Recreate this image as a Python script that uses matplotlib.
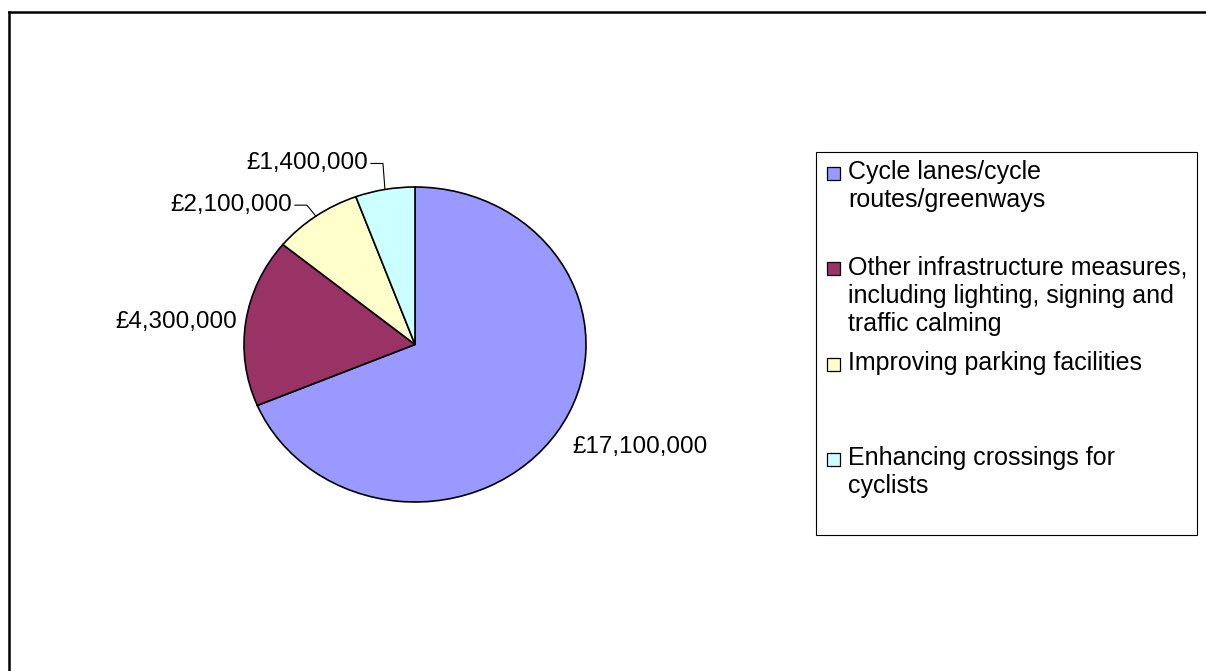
import numpy as np
import matplotlib
matplotlib.use('Agg')
import matplotlib.pyplot as plt
from matplotlib.patches import Rectangle
from matplotlib.lines import Line2D

plt.rcParams['font.family'] = ['Liberation Sans', 'DejaVu Sans']

categories = ['Cycle lanes/cycle\nroutes/greenways',
              'Other infrastructure measures,\nincluding lighting, signing and\ntraffic calming',
              'Improving parking facilities',
              'Enhancing crossings for\ncyclists']
values = [17100000, 4300000, 2100000, 1400000]
value_labels = ['£17,100,000', '£4,300,000', '£2,100,000', '£1,400,000']
colors = ['#9999FF', '#993366', '#FFFFCC', '#CCFFFF']

W, H = 1206, 671
fig = plt.figure(figsize=(W / 100, H / 100), dpi=100)

def fx(px):
    return px / W

def fy(py):
    return 1 - py / H

# pie is a bit squashed in the original (ellipse)
cx, cy, rx, ry = 415, 344.5, 171, 157.5
ax = fig.add_axes([fx(cx - 1.25 * rx), fy(cy + 1.25 * ry), 2.5 * rx / W, 2.5 * ry / H])
wedges, _ = ax.pie(values, colors=colors, startangle=90, counterclock=False,
                   wedgeprops=dict(edgecolor='black', linewidth=1.2))
ax.set_aspect('auto')
ax.set_xlim(-1.25, 1.25)
ax.set_ylim(-1.25, 1.25)

# label offsets in pixels from the wedge edge (dx, dy down), leader line length
label_off = [(15, 15), (-9, 0), (-9, -11), (-2, -26)]
label_ha = ['left', 'right', 'right', 'right']
leader_len = [0, 0, 12, 12]

for w, lab, (dx, dy), ha, hl in zip(wedges, value_labels, label_off, label_ha, leader_len):
    mid = np.deg2rad((w.theta1 + w.theta2) / 2)
    ex, ey = np.cos(mid), np.sin(mid)
    px, py = ex + dx / rx, ey - dy / ry
    if hl:
        ax.plot([ex, px, px - hl / rx], [ey, py, py], color='black', lw=0.8, clip_on=False)
        px = px - (hl + 3) / rx
    ax.text(px, py, lab, ha=ha, va='center', fontsize=17.5)

# legend drawn by hand (entries are evenly spaced in the original)
fig.add_artist(Rectangle((fx(816), fy(535)), 381 / W, 383 / H, transform=fig.transFigure,
                         fill=False, edgecolor='black', lw=0.8))
entry_y = [172, 268, 363, 458]
for y0, cat, col in zip(entry_y, categories, colors):
    fig.add_artist(Rectangle((fx(826.5), fy(y0 + 7.5)), 13 / W, 13 / H, transform=fig.transFigure,
                             facecolor=col, edgecolor='black', lw=0.9))
    for i, line in enumerate(cat.split('\n')):
        fig.text(fx(848), fy(y0 + 28 * i), line, ha='left', va='center', fontsize=18)

# outer frame (only top and left edges fall inside the image)
fig.add_artist(Line2D([fx(9), fx(9)], [fy(12), -0.1], color='black', lw=1.8))
fig.add_artist(Line2D([fx(9), 1.1], [fy(12), fy(12)], color='black', lw=1.8))

fig.savefig('out.png', dpi=100)
